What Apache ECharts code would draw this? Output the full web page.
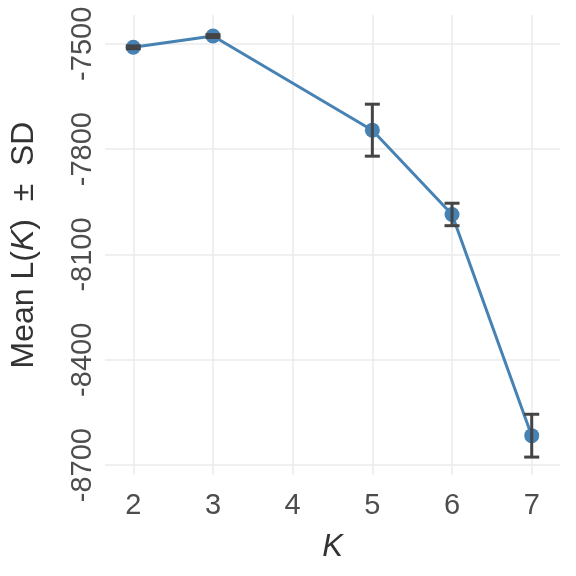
<!DOCTYPE html>
<html>
<head>
<meta charset="utf-8">
<script src="https://cdn.jsdelivr.net/npm/echarts@6/dist/echarts.min.js"></script>
<style>html,body{margin:0;padding:0;background:#fff}#c{width:576px;height:576px}</style>
</head>
<body>
<div id="c"></div>
<script>
const kValues = [2, 3, 5, 6, 7];
const meanL = [-7510, -7478, -7746, -7986, -8616];
const sdL = [4, 4, 74, 32, 61];
const xTicks = [2, 3, 4, 5, 6, 7];
const yTicks = [-8700, -8400, -8100, -7800, -7500];

const chart = echarts.init(document.getElementById('c'), null, {renderer: 'canvas'});
const font = 'Liberation Sans, Arial, Helvetica, sans-serif';
const lineData = kValues.map((k, i) => [k, meanL[i]]);
const errData = kValues.map((k, i) => [k, meanL[i] - sdL[i], meanL[i] + sdL[i]]);

chart.setOption({
  animation: false,
  backgroundColor: '#fff',
  grid: {left: 105, right: 16, top: 15, bottom: 101, containLabel: false},
  xAxis: {
    type: 'value', min: 1.645, max: 7.355,
    name: 'K', nameLocation: 'middle', nameGap: 57,
    nameTextStyle: {fontFamily: font, fontSize: 31, fontStyle: 'italic', color: '#333'},
    axisLine: {show: false},
    axisTick: {show: false, customValues: xTicks},
    axisLabel: {customValues: xTicks, fontFamily: font, fontSize: 29, color: '#4d4d4d', margin: 16,
      formatter: v => String(v)},
    splitLine: {show: true, lineStyle: {color: '#ebebeb', width: 1.5}}
  },
  yAxis: {
    type: 'value', min: -8728, max: -7418,
    name: '{a|Mean L(}{b|K}{a|)  \u00b1  SD}', nameLocation: 'middle', nameGap: 65, nameRotate: 90,
    nameTextStyle: {rich: {
      a: {fontFamily: font, fontSize: 32, color: '#333'},
      b: {fontFamily: font, fontSize: 32, fontStyle: 'italic', color: '#333'}
    }},
    axisLine: {show: false},
    axisTick: {show: false, customValues: yTicks},
    axisLabel: {customValues: yTicks, rotate: 90, fontFamily: font, fontSize: 29, color: '#4d4d4d', margin: 8,
      formatter: v => String(v)},
    splitLine: {show: true, lineStyle: {color: '#ebebeb', width: 1.5}}
  },
  series: [
    {
      type: 'line', data: lineData, symbol: 'circle', symbolSize: 15,
      lineStyle: {color: '#4682b4', width: 3},
      itemStyle: {color: '#4682b4'}, z: 2
    },
    {
      type: 'custom', data: errData, z: 3,
      renderItem: function (params, api) {
        const x = api.value(0);
        const lo = api.coord([x, api.value(1)]);
        const hi = api.coord([x, api.value(2)]);
        const w = 7.5;
        const style = {stroke: '#444', lineWidth: 3};
        return {type: 'group', children: [
          {type: 'line', shape: {x1: lo[0], y1: lo[1], x2: hi[0], y2: hi[1]}, style: style},
          {type: 'line', shape: {x1: lo[0] - w, y1: lo[1], x2: lo[0] + w, y2: lo[1]}, style: style},
          {type: 'line', shape: {x1: hi[0] - w, y1: hi[1], x2: hi[0] + w, y2: hi[1]}, style: style}
        ]};
      }
    }
  ]
});
</script>
</body>
</html>
